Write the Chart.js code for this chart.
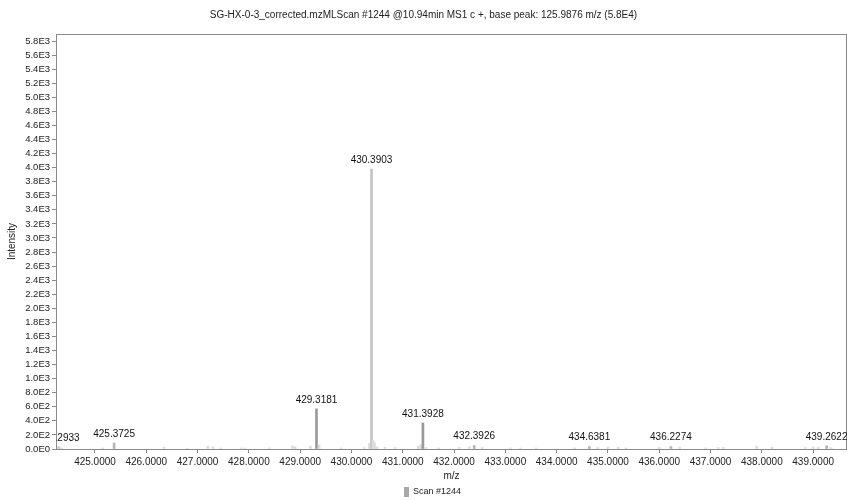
<!DOCTYPE html>
<html>
<head>
<meta charset="utf-8">
<script src="https://cdn.jsdelivr.net/npm/chart.js@4"></script>
<style>
  body { margin: 0; background: #fff; }
  #wrap { width: 847px; height: 500px; }
</style>
</head>
<body>
<div id="wrap"><canvas id="specChart"></canvas></div>
<script>
// m/z of each stick and its intensity
const mzValues = [
  424.2933, 424.31, 424.35, 425.3725, 425.15, 426.35, 426.8, 427.2, 427.3, 427.45,
  427.85, 427.92, 428.4, 428.85, 428.9, 429.2, 429.3181, 429.37, 429.8, 430.25,
  430.35, 430.3903, 430.42, 430.45, 430.5, 430.65, 430.85, 431.3, 431.35, 431.3928,
  431.45, 431.7, 432.1, 432.3, 432.3926, 432.55, 433.1, 433.3, 433.6, 434.35,
  434.6381, 434.8, 435.0, 435.2, 435.35, 436.0, 436.2274, 436.4, 436.9, 437.15,
  437.25, 437.9, 438.2, 438.85, 439.0, 439.1, 439.2622, 439.35
];
const intensities = [
  30, 20, 15, 85, 15, 25, 10, 40, 30, 15,
  15, 15, 15, 45, 30, 40, 570, 60, 15, 20,
  80, 3980, 120, 90, 30, 25, 20, 40, 60, 370,
  20, 15, 20, 30, 50, 20, 15, 15, 15, 15,
  35, 20, 25, 25, 15, 20, 35, 25, 15, 20,
  20, 40, 25, 20, 30, 25, 45, 20
];
const labeledPeaks = [424.2933, 425.3725, 429.3181, 430.3903, 431.3928, 432.3926, 434.6381, 436.2274, 439.2622];
const xTicks = [425, 426, 427, 428, 429, 430, 431, 432, 433, 434, 435, 436, 437, 438, 439];
const yTicks = [0, 200, 400, 600, 800, 1000, 1200, 1400, 1600, 1800, 2000, 2200, 2400, 2600, 2800,
  3000, 3200, 3400, 3600, 3800, 4000, 4200, 4400, 4600, 4800, 5000, 5200, 5400, 5600, 5800];

const FONT = 'Liberation Sans, Arial, sans-serif';

const points = mzValues.map((mz, i) => ({ x: mz, y: intensities[i] }));
const barColors = mzValues.map(mz => {
  if (mz === 430.3903) return '#c4c4c4';
  if (mz === 429.3181 || mz === 431.3928) return '#9a9a9a';
  if (labeledPeaks.includes(mz)) return '#b4b4b4';
  return '#dcdcdc';
});

// frame around plot, peak labels and the small legend under the axis
const peakLabels = {
  id: 'peakLabels',
  afterDatasetsDraw(chart) {
    const { ctx, chartArea, scales } = chart;
    ctx.save();
    ctx.strokeStyle = '#8a8a8a';
    ctx.lineWidth = 1;
    ctx.strokeRect(chartArea.left + 0.5, chartArea.top + 0.5, chartArea.right - chartArea.left - 1, chartArea.bottom - chartArea.top);

    // legend
    ctx.font = '9px ' + FONT;
    ctx.fillStyle = '#a8a8a8';
    ctx.fillRect(404, 487, 5, 10);
    ctx.fillStyle = '#222';
    ctx.textAlign = 'left';
    ctx.textBaseline = 'middle';
    ctx.fillText(chart.data.datasets[0].label, 413, 492);

    ctx.beginPath();
    ctx.rect(chartArea.left, chartArea.top, chartArea.right - chartArea.left, chartArea.bottom - chartArea.top);
    ctx.clip();
    ctx.font = '10px ' + FONT;
    ctx.fillStyle = '#111';
    ctx.textAlign = 'center';
    ctx.textBaseline = 'bottom';
    labeledPeaks.forEach(mz => {
      const i = mzValues.indexOf(mz);
      const px = scales.x.getPixelForValue(mz);
      const py = scales.y.getPixelForValue(intensities[i]);
      ctx.fillText(mz.toFixed(4), px, py - 4);
    });
    ctx.restore();
  }
};

new Chart(document.getElementById('specChart'), {
  type: 'bar',
  data: {
    datasets: [{
      label: 'Scan #1244',
      data: points,
      backgroundColor: barColors,
      borderWidth: 0,
      barThickness: 2,
      grouped: false
    }]
  },
  options: {
    responsive: true,
    maintainAspectRatio: false,
    animation: false,
    layout: { padding: { left: 0, right: 0, top: 0, bottom: 17 } },
    scales: {
      x: {
        type: 'linear',
        min: 424.24,
        max: 439.66,
        offset: false,
        afterBuildTicks: axis => { axis.ticks = xTicks.map(v => ({ value: v })); },
        afterFit: axis => { axis.height = 34; },
        ticks: {
          font: { family: FONT, size: 10 },
          color: '#222',
          padding: 3,
          maxRotation: 0,
          autoSkip: false,
          callback: v => v.toFixed(4)
        },
        grid: { drawOnChartArea: false, offset: false, tickLength: 4, color: '#8a8a8a' },
        border: { color: '#8a8a8a' },
        title: { display: true, text: 'm/z', font: { family: FONT, size: 10 }, color: '#222', padding: { top: 2, bottom: 1 } }
      },
      y: {
        min: 0,
        max: 5900,
        afterBuildTicks: axis => { axis.ticks = yTicks.map(v => ({ value: v })); },
        afterFit: axis => { axis.width = 56; },
        ticks: {
          font: { family: FONT, size: 9.5 },
          color: '#222',
          padding: 2,
          autoSkip: false,
          callback: v => v.toExponential(1).toUpperCase().replace('E+', 'E')
        },
        grid: { drawOnChartArea: false, tickLength: 4, color: '#8a8a8a' },
        border: { color: '#8a8a8a' },
        title: { display: true, text: 'Intensity', font: { family: FONT, size: 10 }, color: '#222', padding: { top: 6, bottom: 0 } }
      }
    },
    plugins: {
      title: {
        display: true,
        text: 'SG-HX-0-3_corrected.mzMLScan #1244 @10.94min MS1 c +, base peak: 125.9876 m/z (5.8E4)',
        font: { family: FONT, size: 10, weight: 'normal' },
        color: '#222',
        padding: { top: 9, bottom: 13 }
      },
      legend: { display: false },
      tooltip: { enabled: false }
    }
  },
  plugins: [peakLabels]
});
</script>
</body>
</html>
